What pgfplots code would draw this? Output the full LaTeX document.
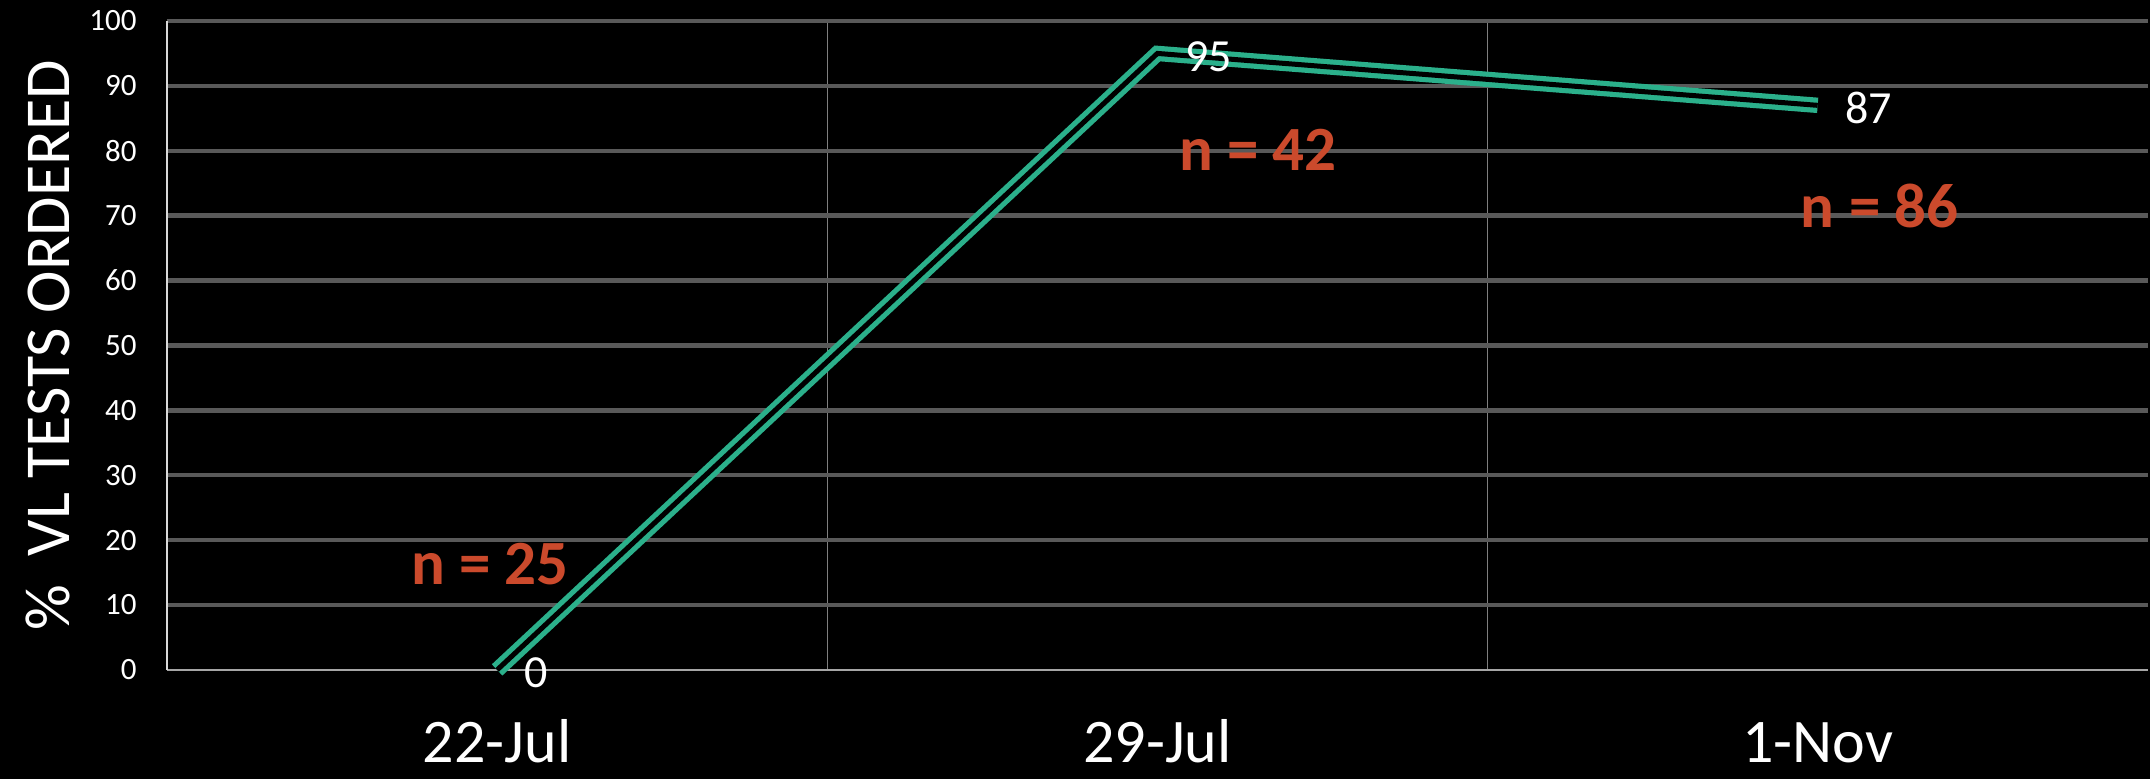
\documentclass[border=0pt]{standalone}
\usepackage{fontspec}
\setmainfont{Carlito}
\usepackage{pgfplots}
\pgfplotsset{compat=1.18}
\definecolor{tealline}{HTML}{2BB08B}
\definecolor{nred}{HTML}{CB4A2C}
\definecolor{gridgray}{HTML}{595959}
\definecolor{vgrid}{HTML}{7F7F7F}
\definecolor{xaxis}{HTML}{A6A6A6}
\definecolor{yaxis}{HTML}{D9D9D9}
\begin{document}
\begin{tikzpicture}
\fill[black] (-83.5pt,-54.5pt) rectangle (991.5pt,335pt);
\begin{axis}[
  at={(0,0)}, anchor=south west,
  scale only axis, width=990.5pt, height=324.5pt,
  clip=false,
  xmin=-0.5, xmax=2.5, ymin=0, ymax=100,
  xtick={0,1,2}, xticklabels={22-Jul,29-Jul,1-Nov},
  ytick={10,20,...,100},
  extra y ticks={0},
  extra y tick style={grid=none},
  minor xtick={0.5,1.5},
  xminorgrids, ymajorgrids,
  major grid style={gridgray, line width=2.2pt},
  minor grid style={vgrid, line width=0.6pt},
  major tick length=0pt, minor tick length=0pt,
  tick style={draw=none},
  axis lines*=left,
  x axis line style={-, draw=xaxis, line width=1pt},
  y axis line style={-, draw=yaxis, line width=0.75pt},
  /pgf/number format/assume math mode=true,
  yticklabel style={font=\fontsize{15.5}{18}\selectfont, color=white, anchor=east, inner sep=0pt, xshift=-15pt},
  xticklabel style={font=\fontsize{31}{37}\selectfont, color=white, anchor=base, inner sep=0pt, yshift=-46.5pt},
  ylabel={\%\ \ VL TESTS ORDERED},
  ylabel style={font=\fontsize{32}{38}\selectfont, color=white, at={(axis description cs:-0.07168,0.5)}, anchor=north, inner sep=0pt},
]
\addplot[draw=tealline, double=black, line width=2.6pt, double distance=2.5pt, mark=none,
  nodes near coords,
  nodes near coords style={font=\fontsize{23}{27}\selectfont, color=white, anchor=west, inner sep=0pt, xshift=12.5pt, yshift=-1.5pt}]
  coordinates {(0,0) (1,95) (2,87)};
\node[font=\bfseries\fontsize{31.5}{36}\selectfont, color=nred, anchor=base] at (axis cs:-0.011,13.1) {n = 25};
\node[font=\bfseries\fontsize{31.5}{36}\selectfont, color=nred, anchor=base] at (axis cs:1.152,77.0) {n = 42};
\node[font=\bfseries\fontsize{31.5}{36}\selectfont, color=nred, anchor=base] at (axis cs:2.094,68.1) {n = 86};
\end{axis}
\end{tikzpicture}
\end{document}
